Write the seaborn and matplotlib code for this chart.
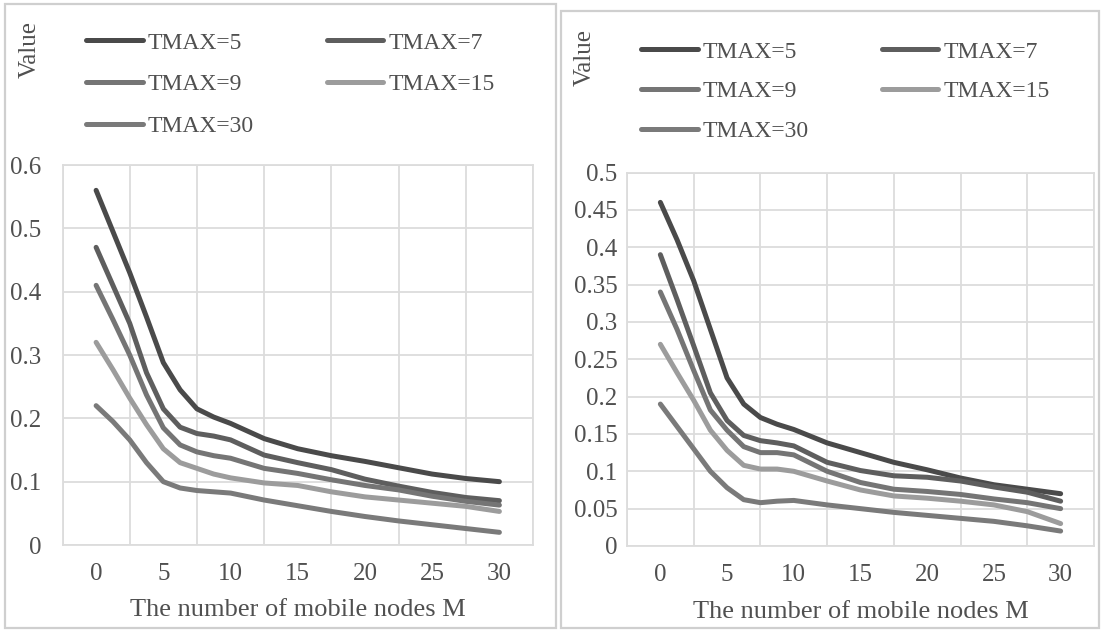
import matplotlib
matplotlib.use("Agg")
import matplotlib.pyplot as plt
from matplotlib.patches import Rectangle
import numpy as np
import pandas as pd
import seaborn as sns

# Werte (x = Anzahl mobiler Knoten M)
m_nodes = [0, 1.25, 2.5, 3.75, 5, 6.25, 7.5, 8.75, 10,
           12.5, 15, 17.5, 20, 22.5, 25, 27.5, 30]
series_names = ["TMAX=5", "TMAX=7", "TMAX=9", "TMAX=15", "TMAX=30"]

# linkes Diagramm
left_t5 = [0.56, 0.495, 0.43, 0.36, 0.288, 0.245, 0.215, 0.202, 0.192,
           0.168, 0.152, 0.141, 0.132, 0.122, 0.112, 0.105, 0.10]
left_t7 = [0.47, 0.41, 0.35, 0.272, 0.215, 0.186, 0.176, 0.172, 0.166,
           0.142, 0.130, 0.119, 0.104, 0.093, 0.083, 0.075, 0.07]
left_t9 = [0.41, 0.356, 0.30, 0.237, 0.185, 0.158, 0.147, 0.141, 0.137,
           0.121, 0.113, 0.103, 0.094, 0.087, 0.077, 0.069, 0.063]
left_t15 = [0.32, 0.277, 0.232, 0.19, 0.152, 0.13, 0.121, 0.112, 0.106,
            0.098, 0.094, 0.084, 0.076, 0.071, 0.066, 0.061, 0.053]
left_t30 = [0.22, 0.195, 0.166, 0.13, 0.10, 0.09, 0.086, 0.084, 0.082,
            0.071, 0.062, 0.053, 0.045, 0.038, 0.032, 0.026, 0.02]

# rechtes Diagramm
right_t5 = [0.46, 0.41, 0.355, 0.29, 0.225, 0.19, 0.172, 0.163, 0.156,
            0.138, 0.125, 0.112, 0.102, 0.091, 0.082, 0.076, 0.07]
right_t7 = [0.39, 0.33, 0.268, 0.205, 0.168, 0.148, 0.141, 0.138, 0.134,
            0.112, 0.101, 0.094, 0.092, 0.087, 0.079, 0.072, 0.06]
right_t9 = [0.34, 0.29, 0.235, 0.182, 0.155, 0.133, 0.125, 0.125, 0.122,
            0.100, 0.085, 0.076, 0.073, 0.069, 0.063, 0.058, 0.05]
right_t15 = [0.27, 0.232, 0.195, 0.155, 0.128, 0.108, 0.103, 0.103, 0.100,
             0.087, 0.075, 0.067, 0.064, 0.060, 0.055, 0.046, 0.03]
right_t30 = [0.19, 0.16, 0.13, 0.10, 0.078, 0.062, 0.058, 0.06, 0.061,
             0.055, 0.050, 0.045, 0.041, 0.037, 0.033, 0.027, 0.02]

x_ticks = [0, 5, 10, 15, 20, 25, 30]
left_y_ticks = [0, 0.1, 0.2, 0.3, 0.4, 0.5, 0.6]
right_y_ticks = [0, 0.05, 0.1, 0.15, 0.2, 0.25, 0.3, 0.35, 0.4, 0.45, 0.5]

colors = {"TMAX=5": "#4a4a4a", "TMAX=7": "#5e5e5e", "TMAX=9": "#757575",
          "TMAX=15": "#9c9c9c", "TMAX=30": "#7a7a7a"}
text_color = "#505050"
grid_color = "#dcdcdc"


def long_table(cols):
    rows = []
    for name, vals in zip(series_names, cols):
        for m, v in zip(m_nodes, vals):
            rows.append({"M": m, "Value": v, "TMAX": name})
    return pd.DataFrame(rows)


df_left = long_table([left_t5, left_t7, left_t9, left_t15, left_t30])
df_right = long_table([right_t5, right_t7, right_t9, right_t15, right_t30])

sns.set_theme(style="white")
plt.rcParams["font.family"] = ["Liberation Serif", "DejaVu Serif"]

W, H = 1102, 630
fig = plt.figure(figsize=(W / 100, H / 100), dpi=100)

# Rahmen um die beiden Teilbilder
for x0, y0, x1, y1 in [(5, 4, 556, 628), (561, 11, 1099, 628)]:
    fig.patches.append(Rectangle((x0 / W, 1 - y1 / H), (x1 - x0) / W, (y1 - y0) / H,
                                 transform=fig.transFigure, fill=False,
                                 ec="#cfcfcf", lw=1.6))

axL = fig.add_axes([62.5 / W, (H - 545) / H, 470.5 / W, 380 / H])
axR = fig.add_axes([627 / W, (H - 546) / H, 467 / W, 373.5 / H])

setups = [
    (axL, df_left, left_y_ticks, 0.6, 15, (86, 32), 0.86, (30, 50), -0.171),
    (axR, df_right, right_y_ticks, 0.5, 7, (641, 41), 0.78, (585, 58), -0.176),
]

for ax, df, yticks, ymax, ypad, leg_pos, leg_sp, val_pos, xlab_y in setups:
    sns.lineplot(data=df, x="M", y="Value", hue="TMAX", hue_order=series_names,
                 palette=colors, lw=3.6, legend=False, ax=ax, sort=False)
    for ln in ax.lines:
        ln.set_solid_capstyle("round")
        ln.set_solid_joinstyle("round")

    ax.set_xlim(-2.5, 32.5)
    ax.set_ylim(0, ymax)
    ax.set_xticks(x_ticks)
    ax.set_xticklabels([str(t) for t in x_ticks])
    ax.set_xticks(np.arange(-2.5, 33, 5), minor=True)
    ax.set_yticks(yticks)
    ax.set_yticklabels(["%g" % t for t in yticks])
    ax.grid(False)
    ax.grid(True, which="minor", axis="x", color=grid_color, lw=1.3)
    ax.grid(True, which="major", axis="y", color=grid_color, lw=1.3)
    for s in ax.spines.values():
        s.set_color(grid_color)
        s.set_linewidth(1.3)
    ax.tick_params(axis="both", which="both", length=0, labelsize=18, colors=text_color)
    ax.tick_params(axis="y", pad=ypad)
    ax.tick_params(axis="x", pad=13)

    ax.set_xlabel("The number of mobile nodes M", fontsize=19, color=text_color)
    ax.xaxis.label.set_va("center")
    ax.xaxis.set_label_coords(0.5, xlab_y)

    # "Value" steht oben links über der Achse
    pos = ax.get_position()
    ax.set_ylabel("Value", fontsize=18, color=text_color)
    ax.yaxis.label.set_va("center")
    ax.yaxis.set_label_coords((val_pos[0] / W - pos.x0) / pos.width,
                              ((1 - val_pos[1] / H) - pos.y0) / pos.height)

    # Legende zeilenweise: 5, 7 / 9, 15 / 30
    handles = ax.lines[:5]
    order = [0, 2, 4, 1, 3]
    ax.legend([handles[i] for i in order], [series_names[i] for i in order],
              loc="upper left", bbox_to_anchor=(leg_pos[0] / W, 1 - leg_pos[1] / H),
              bbox_transform=fig.transFigure, ncol=2, frameon=False,
              borderpad=0, borderaxespad=0, handlelength=2.4, handletextpad=0.2,
              columnspacing=3.1, labelspacing=leg_sp, fontsize=17, labelcolor=text_color)

fig.savefig("out.png", dpi=100, facecolor="white")
